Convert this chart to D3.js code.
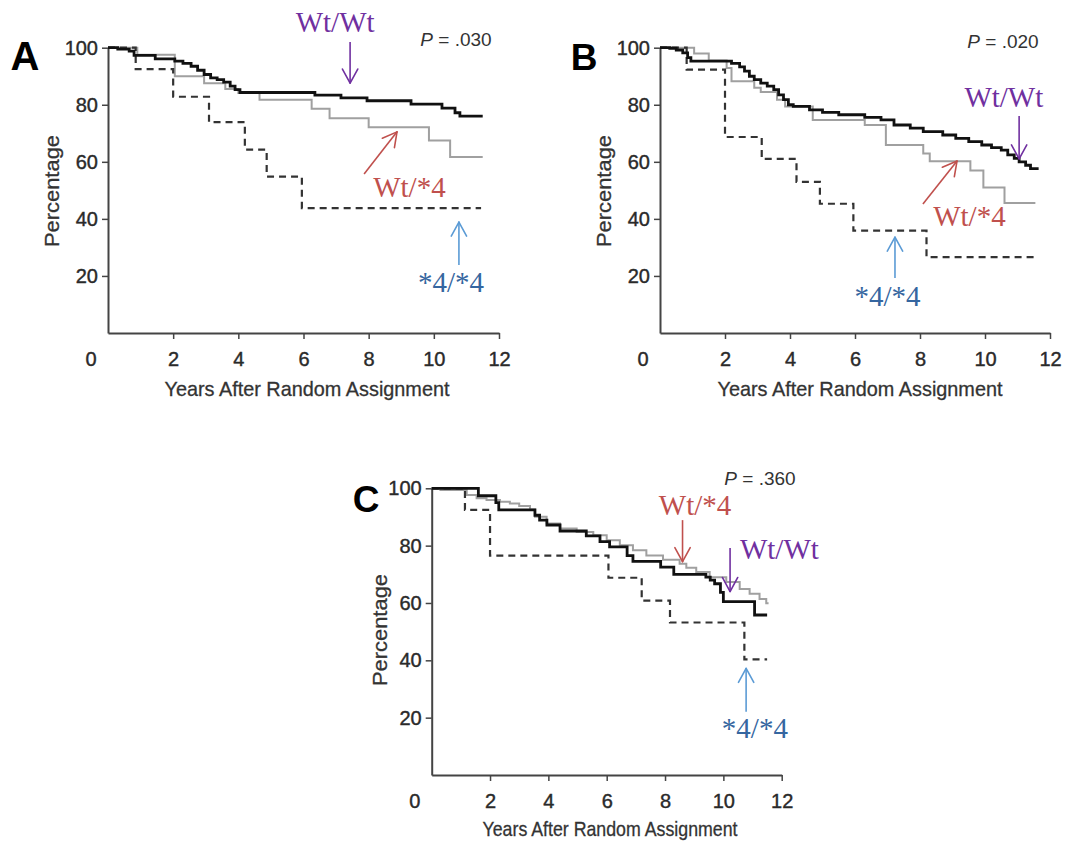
<!DOCTYPE html>
<html>
<head>
<meta charset="utf-8">
<script src="https://cdn.jsdelivr.net/npm/d3@7/dist/d3.min.js"></script>
<style>
  html, body { margin: 0; padding: 0; background: #fff; }
  svg { display: block; }
</style>
</head>
<body>
<svg id="chart" width="1080" height="841"></svg>
<script>
// ---------------- DATA ----------------
const xTicks = [0, 2, 4, 6, 8, 10, 12];
const yTicks = [20, 40, 60, 80, 100];
const xTitle = "Years After Random Assignment";
const yTitle = "Percentage";
const panelLetters = ["A", "B", "C"];
const pValues = [".030", ".020", ".360"];
const groupLabels = ["Wt/Wt", "Wt/*4", "*4/*4"];

// Kaplan-Meier steps [years, percentage]
const aWtWt = [[0,100],[0.3,99.5],[0.65,98.8],[0.8,97.3],[1.45,96.1],[2.05,95.3],[2.3,94.5],[2.55,93.5],[2.75,92.1],[2.95,90.6],[3.15,89.4],[3.35,88.8],[3.55,87.9],[3.75,86.5],[3.9,85.3],[4.05,84.3],[6.35,83.4],[7.15,82.4],[7.95,81.4],[9.3,80.2],[10.25,78.8],[10.65,77.2],[10.8,76.0],[11.5,76.0]];
const aWt4  = [[0,100],[0.9,97.5],[2.05,90],[2.95,87.5],[3.6,85.5],[4.0,84.1],[4.65,81.8],[6.25,78.6],[6.8,75.3],[8.0,72.1],[9.85,67.5],[10.5,61.7],[11.5,61.7]];
const a44   = [[0,100],[0.85,92.5],[2.0,82.8],[3.1,73.9],[4.2,64.3],[4.87,54.8],[5.95,43.8],[11.45,43.8]];

const bWtWt = [[0,100],[0.3,99.8],[0.5,99.2],[0.7,98.2],[0.85,96.5],[0.95,95.3],[2.2,94.5],[2.45,93.3],[2.6,91.8],[2.75,90],[2.9,88.8],[3.1,87.6],[3.3,86.5],[3.5,85.3],[3.65,83.5],[3.8,81.8],[3.95,80],[4.1,79.4],[4.6,78.2],[5.0,77.3],[5.5,76.5],[6.3,75.6],[6.8,74.7],[7.2,72.9],[7.7,71.8],[8.1,70.6],[8.7,69.4],[9.1,68.2],[9.5,67.1],[9.9,65.9],[10.2,65],[10.5,64.1],[10.7,62.4],[10.9,61.2],[11.05,60],[11.25,58.8],[11.4,57.6],[11.65,57.6]];
const bWt4  = [[0,100],[1.05,98],[1.5,95.5],[2.05,92.9],[2.2,88.2],[2.9,86],[3.1,84.5],[3.6,81.8],[3.85,79.4],[4.7,74.7],[6.3,72.9],[6.95,65.9],[8.1,62.9],[8.3,60.2],[9.55,57],[9.95,51],[10.6,45.6],[11.55,45.6]];
const b44   = [[0,100],[0.82,92.3],[2.0,68.7],[3.13,61],[4.2,53],[4.92,45.3],[5.95,35.9],[8.2,26.6],[11.6,26.6]];

const cWtWt = [[0,100],[1.6,97.4],[2.2,95],[2.3,92.5],[3.54,90.6],[3.7,88.9],[3.95,87.2],[4.4,85.1],[5.3,83.4],[5.77,81.4],[6.1,79.6],[6.7,76.5],[6.9,74.5],[7.85,72.5],[8.3,70],[9.4,69],[9.55,68],[9.7,66.7],[9.9,63.7],[10.0,60.5],[11.07,55.8],[11.5,55.8]];
const cWt4  = [[0,100],[0.3,99.4],[1.2,97.7],[1.54,96.5],[1.88,95.9],[2.34,95.3],[2.68,94.7],[3.0,93.8],[3.37,92.6],[3.54,90.1],[3.94,87.7],[4.4,86],[4.97,84.8],[5.54,83.6],[6.0,81.9],[6.45,80.1],[6.9,78.4],[7.36,76.6],[7.93,75.1],[8.5,73.7],[8.73,72.3],[9.07,70.8],[9.53,69],[10.1,67.3],[10.56,64.9],[10.9,63.2],[11.24,61.4],[11.47,59.9],[11.55,59.9]];
const c44   = [[0,100],[1.14,92.5],[2.0,76.5],[6.06,68.8],[7.2,60.8],[8.17,53.2],[10.72,40.3],[11.5,40.3]];

// Annotation anchors in data units: [labelX, labelY(baseline), arrowX1, arrowY1, arrowX2, arrowY2]
const aNotes = [[6.97,105.5, 7.43,102, 7.43,87.6], [9.25,47.7, 7.86,55.7, 8.87,70.5], [10.53,14.4, 10.77,23.8, 10.77,38.9]];
const bNotes = [[10.58,79.2, 11.05,76.1, 11.05,61], [9.52,37.5, 8.09,45.2, 9.14,60.3], [7.0,9.5, 7.23,19.3, 7.23,33.6]];
const cNotes = [[11.92,75.3, 10.23,79.2, 10.23,64], [9.03,90.6, 8.6,88.9, 8.6,74.4], [11.08,12.9, 10.78,22.1, 10.78,37.2]];

// ---------------- LAYOUT ----------------
const panels = [
  { letter: panelLetters[0], p: pValues[0], series: [aWtWt, aWt4, a44], notes: aNotes,
    xr: [108, 499], yr: [333, 47.7], letterPos: [25, 70], letterSize: 40,
    pPos: [456, 46], xTitlePos: [307, 396], xTitleLen: 285, yTitlePos: [52, 191], yTitleLen: 112 },
  { letter: panelLetters[1], p: pValues[1], series: [bWtWt, bWt4, b44], notes: bNotes,
    xr: [660, 1050], yr: [333, 47.7], letterPos: [584, 70], letterSize: 37,
    pPos: [1003, 48], xTitlePos: [860, 396], xTitleLen: 285, yTitlePos: [604, 191], yTitleLen: 112 },
  { letter: panelLetters[2], p: pValues[2], series: [cWtWt, cWt4, c44], notes: cNotes,
    xr: [431.7, 781.7], yr: [775, 488.3], letterPos: [366, 512], letterSize: 37,
    pPos: [760, 485], xTitlePos: [610, 836], xTitleLen: 255, yTitlePos: [380, 630], yTitleLen: 112 }
];

const noteColors = ["#7030A0", "#C0504D", "#3566A0"];
const arrowColors = ["#7030A0", "#C0504D", "#5B9BD5"];

const svg = d3.select("#chart");
svg.append("rect").attr("width", 1080).attr("height", 841).attr("fill", "#fff");

const sans = "'Liberation Sans', Arial, Helvetica, sans-serif";
const serif = "'Liberation Serif', 'Times New Roman', serif";

panels.forEach(P => {
  const x = d3.scaleLinear().domain([0, 12]).range(P.xr);
  const y = d3.scaleLinear().domain([0, 100]).range(P.yr);
  const g = svg.append("g");

  // axes
  const xa = g.append("g").attr("transform", `translate(0,${y(0)})`)
    .call(d3.axisBottom(x).tickValues(xTicks.slice(1)).tickSize(6).tickPadding(13).tickSizeOuter(0));
  const ya = g.append("g").attr("transform", `translate(${x(0)},0)`)
    .call(d3.axisLeft(y).tickValues(yTicks).tickSize(6).tickPadding(4).tickSizeOuter(0));
  [xa, ya].forEach(a => {
    a.select(".domain").attr("stroke", "#444").attr("stroke-width", 2);
    a.selectAll(".tick line").attr("stroke", "#444").attr("stroke-width", 1.5);
    a.selectAll(".tick text").attr("fill", "#2a2a2a").attr("stroke", "#2a2a2a").attr("stroke-width", 0.4)
      .style("font-family", sans).style("font-size", "20px");
  });
  // origin label "0"
  g.append("text").attr("x", x(0) - 17).attr("y", y(0) + 19).attr("dy", "0.71em")
    .attr("text-anchor", "middle").attr("fill", "#2a2a2a").attr("stroke", "#2a2a2a").attr("stroke-width", 0.4)
    .style("font-family", sans).style("font-size", "20px").text(xTicks[0]);

  // titles
  g.append("text").attr("x", P.xTitlePos[0]).attr("y", P.xTitlePos[1])
    .attr("text-anchor", "middle").attr("fill", "#333").attr("stroke", "#333").attr("stroke-width", 0.3)
    .attr("textLength", P.xTitleLen).attr("lengthAdjust", "spacingAndGlyphs")
    .style("font-family", sans).style("font-size", "21px").text(xTitle);
  g.append("text").attr("transform", `translate(${P.yTitlePos[0] + 7},${P.yTitlePos[1]}) rotate(-90)`)
    .attr("text-anchor", "middle").attr("fill", "#333").attr("stroke", "#333").attr("stroke-width", 0.3)
    .attr("textLength", P.yTitleLen).attr("lengthAdjust", "spacingAndGlyphs")
    .style("font-family", sans).style("font-size", "21px").text(yTitle);

  // panel letter
  g.append("text").attr("x", P.letterPos[0]).attr("y", P.letterPos[1])
    .attr("text-anchor", "middle").attr("fill", "#000")
    .style("font-family", sans).style("font-weight", "bold").style("font-size", P.letterSize + "px")
    .text(P.letter);

  // P value
  const pt = g.append("text").attr("x", P.pPos[0]).attr("y", P.pPos[1])
    .attr("text-anchor", "middle").attr("fill", "#333")
    .style("font-family", sans).style("font-size", "19px");
  pt.append("tspan").style("font-style", "italic").text("P");
  pt.append("tspan").text(" = " + P.p);

  // curves
  const line = d3.line().x(d => x(d[0])).y(d => y(d[1])).curve(d3.curveStepAfter);
  // Wt/*4 gray
  g.append("path").datum(P.series[1]).attr("d", line)
    .attr("fill", "none").attr("stroke", "#a0a0a0").attr("stroke-width", 2);
  // *4/*4 dashed
  g.append("path").datum(P.series[2]).attr("d", line)
    .attr("fill", "none").attr("stroke", "#333").attr("stroke-width", 2.2)
    .attr("stroke-dasharray", "7,5");
  // Wt/Wt black
  g.append("path").datum(P.series[0]).attr("d", line)
    .attr("fill", "none").attr("stroke", "#111").attr("stroke-width", 2.8);

  // annotations
  P.notes.forEach((n, i) => {
    g.append("text").attr("x", x(n[0])).attr("y", y(n[1]))
      .attr("text-anchor", "middle").attr("fill", noteColors[i])
      .style("font-family", serif).style("font-size", "29px").text(groupLabels[i]);
    const x1 = x(n[2]), y1 = y(n[3]), x2 = x(n[4]), y2 = y(n[5]);
    const col = arrowColors[i];
    g.append("line").attr("x1", x1).attr("y1", y1).attr("x2", x2).attr("y2", y2)
      .attr("stroke", col).attr("stroke-width", 1.6);
    const ang = Math.atan2(y2 - y1, x2 - x1);
    const L = 16, h = 0.5;
    [ang + Math.PI - h, ang + Math.PI + h].forEach(a => {
      g.append("line").attr("x1", x2).attr("y1", y2)
        .attr("x2", x2 + L * Math.cos(a)).attr("y2", y2 + L * Math.sin(a))
        .attr("stroke", col).attr("stroke-width", 1.6).attr("stroke-linecap", "round");
    });
  });
});
</script>
</body>
</html>
